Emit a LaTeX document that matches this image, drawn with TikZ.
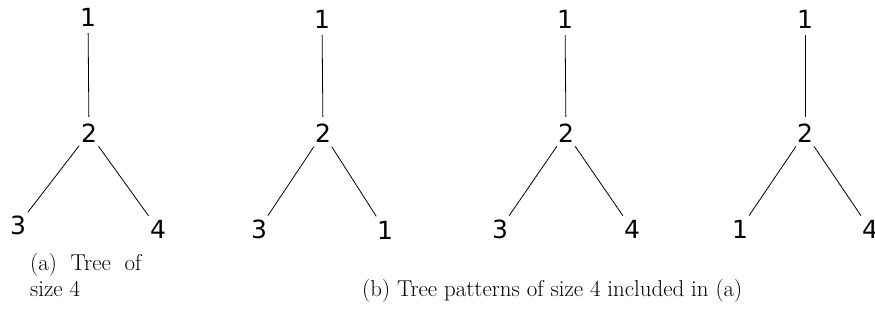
\documentclass[tikz,border=0pt]{standalone}
\usepackage{fontspec}
\newfontfamily\treefont{DejaVu Sans}
\usetikzlibrary{positioning}

\begin{document}
\begin{tikzpicture}[x=1pt,y=-1pt,
  vert/.style={circle,inner sep=0pt,minimum size=32pt,font=\treefont\fontsize{25}{30}\selectfont},
  branch/.style={line width=0.8pt},
  capt/.style={anchor=base west,inner sep=0pt,font=\fontsize{22.9}{26}\selectfont,align=left}]
\useasboundingbox (0,0) rectangle (875,326);
% (a) the tree
\node[vert] (a1) at (88,17) {1};
\node[vert] (a2) at (89,133) {2};
\node[vert] (a3) at (18,225) {3};
\node[vert] (a4) at (158,229) {4};
\draw[branch] (a1) -- (a2);
\draw[branch] (a2) -- (a3);
\draw[branch] (a2) -- (a4);
% (b) the patterns
\node[vert] (b1) at (322,19) {1};
\node[vert] (b2) at (323,133) {2};
\node[vert] (b3) at (259,229) {3};
\node[vert] (b4) at (385,230) {1};
\draw[branch] (b1) -- (b2);
\draw[branch] (b2) -- (b3);
\draw[branch] (b2) -- (b4);
\node[vert] (c1) at (565,19) {1};
\node[vert] (c2) at (566,133) {2};
\node[vert] (c3) at (500,229) {3};
\node[vert] (c4) at (632,229) {4};
\draw[branch] (c1) -- (c2);
\draw[branch] (c2) -- (c3);
\draw[branch] (c2) -- (c4);
\node[vert] (d1) at (805,19) {1};
\node[vert] (d2) at (805,133) {2};
\node[vert] (d3) at (740,229) {1};
\node[vert] (d4) at (870,229) {4};
\draw[branch] (d1) -- (d2);
\draw[branch] (d2) -- (d3);
\draw[branch] (d2) -- (d4);
% captions
\node[capt] (capa) at (30,296) {(a)\hspace{0.6em}Tree\hspace{0.6em}of\\size 4};
\node[capt] (capb) at (362,296) {(b) Tree patterns of size 4 included in (a)};
\end{tikzpicture}
\end{document}
